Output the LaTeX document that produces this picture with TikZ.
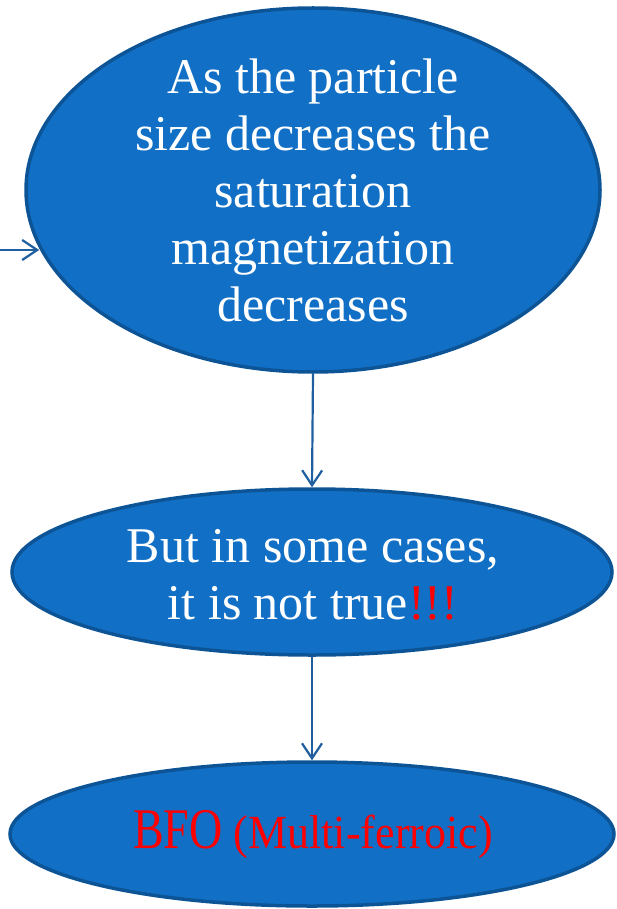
\documentclass[tikz,border=0pt]{standalone}
\usepackage{fontspec}
\setmainfont{Liberation Serif}
\usetikzlibrary{shapes.geometric,arrows.meta}
\definecolor{fillblue}{HTML}{1170C6}
\definecolor{edgeblue}{HTML}{0D5496}
\definecolor{arrowblue}{HTML}{1F5FA0}
\definecolor{textred}{HTML}{FF0000}
\begin{document}
\begin{tikzpicture}[x=1pt,y=-1pt,
  bubble/.style={ellipse, fill=fillblue, draw=edgeblue, line width=3.5pt, inner sep=0pt},
  link/.style={draw=arrowblue, line width=2.2pt, -{Straight Barb[length=15pt,width=20pt,line width=2.2pt]}},
  txt/.style={text=white, align=center, font=\fontsize{50}{57}\selectfont}]
\useasboundingbox (0,0) rectangle (616,909);
\node[bubble, minimum width=574pt, minimum height=364pt] (e1) at (313,190) {};
\node[bubble, minimum width=600pt, minimum height=166pt] (e2) at (312,572) {};
\node[bubble, minimum width=604pt, minimum height=144pt] (e3) at (312,834) {};
\node[txt] (t1) at (313,190) {As the particle\\size decreases the\\saturation\\magnetization\\decreases};
\node[txt] (t2) at (313,575) {But in some cases,\\it is not true\textcolor{textred}{!!!}};
\node[text=textred, font=\fontsize{44}{50}\selectfont] (t3) at (313,835) {\scalebox{1}[1.25]{\fontsize{46}{50}\selectfont BFO} \scalebox{1}[1.08]{(Multi-ferroic)}};
\coordinate (in) at (0,250);
\draw[link] (in) -- (in -| e1.192.5);
\draw[link] (e1.south) -- (e2.north);
\draw[link] (e2.south) -- (e3.north);
\end{tikzpicture}
\end{document}
